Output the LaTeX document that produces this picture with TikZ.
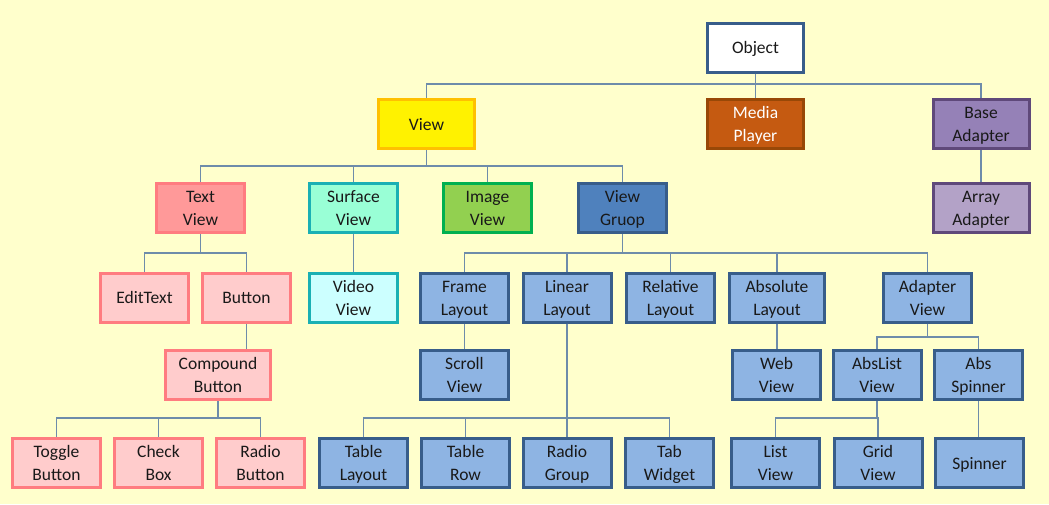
\documentclass[tikz,border=0pt]{standalone}
\usepackage{fontspec}
\setmainfont{Carlito}
\usetikzlibrary{positioning}

\begin{document}
\begin{tikzpicture}[x=1pt,y=-1pt,
    box/.style={draw,line width=3pt,align=center,inner sep=0pt,minimum width=88pt,minimum height=49pt,font=\fontsize{17.5}{23}\selectfont,text=black!90,
        text height=40pt,text depth=5pt},
    one/.style={text height=17pt},
    wide/.style={minimum width=96pt},
    blue/.style={box,fill=lblue,draw=dblue},
    pink/.style={box,fill=lpink,draw=rpink},
    link/.style={draw=linkc,line width=1.5pt}]

		    \definecolor{back}{RGB}{255,255,204}
		    \definecolor{linkc}{RGB}{110,140,170}
		    \definecolor{dblue}{RGB}{56,93,138}
		    \definecolor{lblue}{RGB}{142,180,227}
		    \definecolor{mblue}{RGB}{79,129,189}
		    \definecolor{rpink}{RGB}{255,124,128}
		    \definecolor{lpink}{RGB}{255,204,204}
		    \definecolor{mpink}{RGB}{255,153,153}
		    \definecolor{teal}{RGB}{26,176,180}
		    \definecolor{mint}{RGB}{153,255,214}
		    \definecolor{cyanl}{RGB}{204,255,255}
		    \definecolor{green}{RGB}{0,176,80}
		    \definecolor{lgreen}{RGB}{146,208,80}
		    \definecolor{orange}{RGB}{197,90,17}
		    \definecolor{dorange}{RGB}{152,72,7}
		    \definecolor{purple}{RGB}{149,129,183}
		    \definecolor{lpurple}{RGB}{179,162,199}
		    \definecolor{dpurple}{RGB}{95,73,122}
		    \definecolor{gold}{RGB}{255,192,0}

		    \fill[back] (0,0) rectangle (1049,504);
		    \useasboundingbox (0,0) rectangle (1049,504);

		    % top
		    \node(object) [box,one,wide,fill=white,draw=dblue] at (755.5,47.5) {Object};
		    \node(view) [box,one,wide,fill=yellow,draw=gold] at (426.5,124) {View};
		    \node(media) [box,wide,fill=orange,draw=dorange,text=white] at (755.5,124) {Media\\Player};
		    \node(base) [box,wide,fill=purple,draw=dpurple] at (981,124) {Base\\Adapter};
		    \node(array) [box,wide,fill=lpurple,draw=dpurple] at (981,208) {Array\\Adapter};

		    % views
		    \node(textview) [box,fill=mpink,draw=rpink] at (200.5,208) {Text\\View};
		    \node(surface) [box,fill=mint,draw=teal] at (353.5,208) {Surface\\View};
		    \node(image) [box,fill=lgreen,draw=green] at (487.5,208) {Image\\View};
		    \node(group) [box,fill=mblue,draw=dblue] at (622.5,208) {View\\Gruop};

		    \node(edit) [pink,one] at (144.5,297.5) {EditText};
		    \node(button) [pink,one] at (246.5,297.5) {Button};
		    \node(video) [box,fill=cyanl,draw=teal] at (353.5,297.5) {Video\\View};
		    \node(frame) [blue] at (464.5,297.5) {Frame\\Layout};
		    \node(linear) [blue] at (567,297.5) {Linear\\Layout};
		    \node(relative) [blue] at (670.5,297.5) {Relative\\Layout};
		    \node(absolute) [blue,minimum width=95pt] at (777,297.5) {Absolute\\Layout};
		    \node(adapter) [blue] at (927.5,297.5) {Adapter\\View};

		    \node(compound) [pink,minimum width=105pt] at (218,375) {Compound\\Button};
		    \node(scroll) [blue] at (464.5,375) {Scroll\\View};
		    \node(web) [blue] at (776.5,375) {Web\\View};
		    \node(abslist) [blue] at (877,375) {AbsList\\View};
		    \node(absspin) [blue] at (978.5,375) {Abs\\Spinner};

		    % bottom row
		    \node(toggle) [pink] at (56.5,463) {Toggle\\Button};
		    \node(check) [pink] at (158.5,463) {Check\\Box};
		    \node(radio) [pink] at (260.5,463) {Radio\\Button};
		    \node(table) [blue] at (363.5,463) {Table\\Layout};
		    \node(row) [blue] at (465.5,463) {Table\\Row};
		    \node(rgroup) [blue] at (567,463) {Radio\\Group};
		    \node(tab) [blue] at (669.5,463) {Tab\\Widget};
		    \node(list) [blue] at (775.5,463) {List\\View};
		    \node(grid) [blue] at (878,463) {Grid\\View};
		    \node(spinner) [blue,one] at (979.5,463) {Spinner};

		    % connectors
		    \coordinate (bus1) at (0,84);
		    \coordinate (bus2) at (0,166);
		    \coordinate (bus3) at (0,253);
		    \coordinate (bus4) at (0,337);
		    \coordinate (bus5) at (0,418);

		    \foreach \c in {view,media,base}
		        \draw[link] (object.south) -- (object.south |- bus1) -| (\c.north);
		    \draw[link] (base) -- (array);
		    \foreach \c in {textview,surface,image,group}
		        \draw[link] (view.south) -- (view.south |- bus2) -| (\c.north);
		    \foreach \c in {edit,button}
		        \draw[link] (textview.south) -- (textview.south |- bus3) -| (\c.north);
		    \draw[link] (surface) -- (video);
		    \foreach \c in {frame,linear,relative,absolute,adapter}
		        \draw[link] (group.south) -- (group.south |- bus3) -| (\c.north);
		    \draw[link] (button.south) -- (button.south |- compound.north);
		    \foreach \c in {toggle,check,radio}
		        \draw[link] (compound.south) -- (compound.south |- bus5) -| (\c.north);
		    \draw[link] (frame) -- (scroll);
		    \foreach \c in {table,row,rgroup,tab}
		        \draw[link] (linear.south) -- (linear.south |- bus5) -| (\c.north);
		    \draw[link] (absolute.south) -- (absolute.south |- web.north);
		    \foreach \c in {abslist,absspin}
		        \draw[link] (adapter.south) -- (adapter.south |- bus4) -| (\c.north);
		    \foreach \c in {list,grid}
		        \draw[link] (abslist.south) -- (abslist.south |- bus5) -| (\c.north);
		    \draw[link] (absspin.south) -- (absspin.south |- spinner.north);

\end{tikzpicture}
\end{document}
